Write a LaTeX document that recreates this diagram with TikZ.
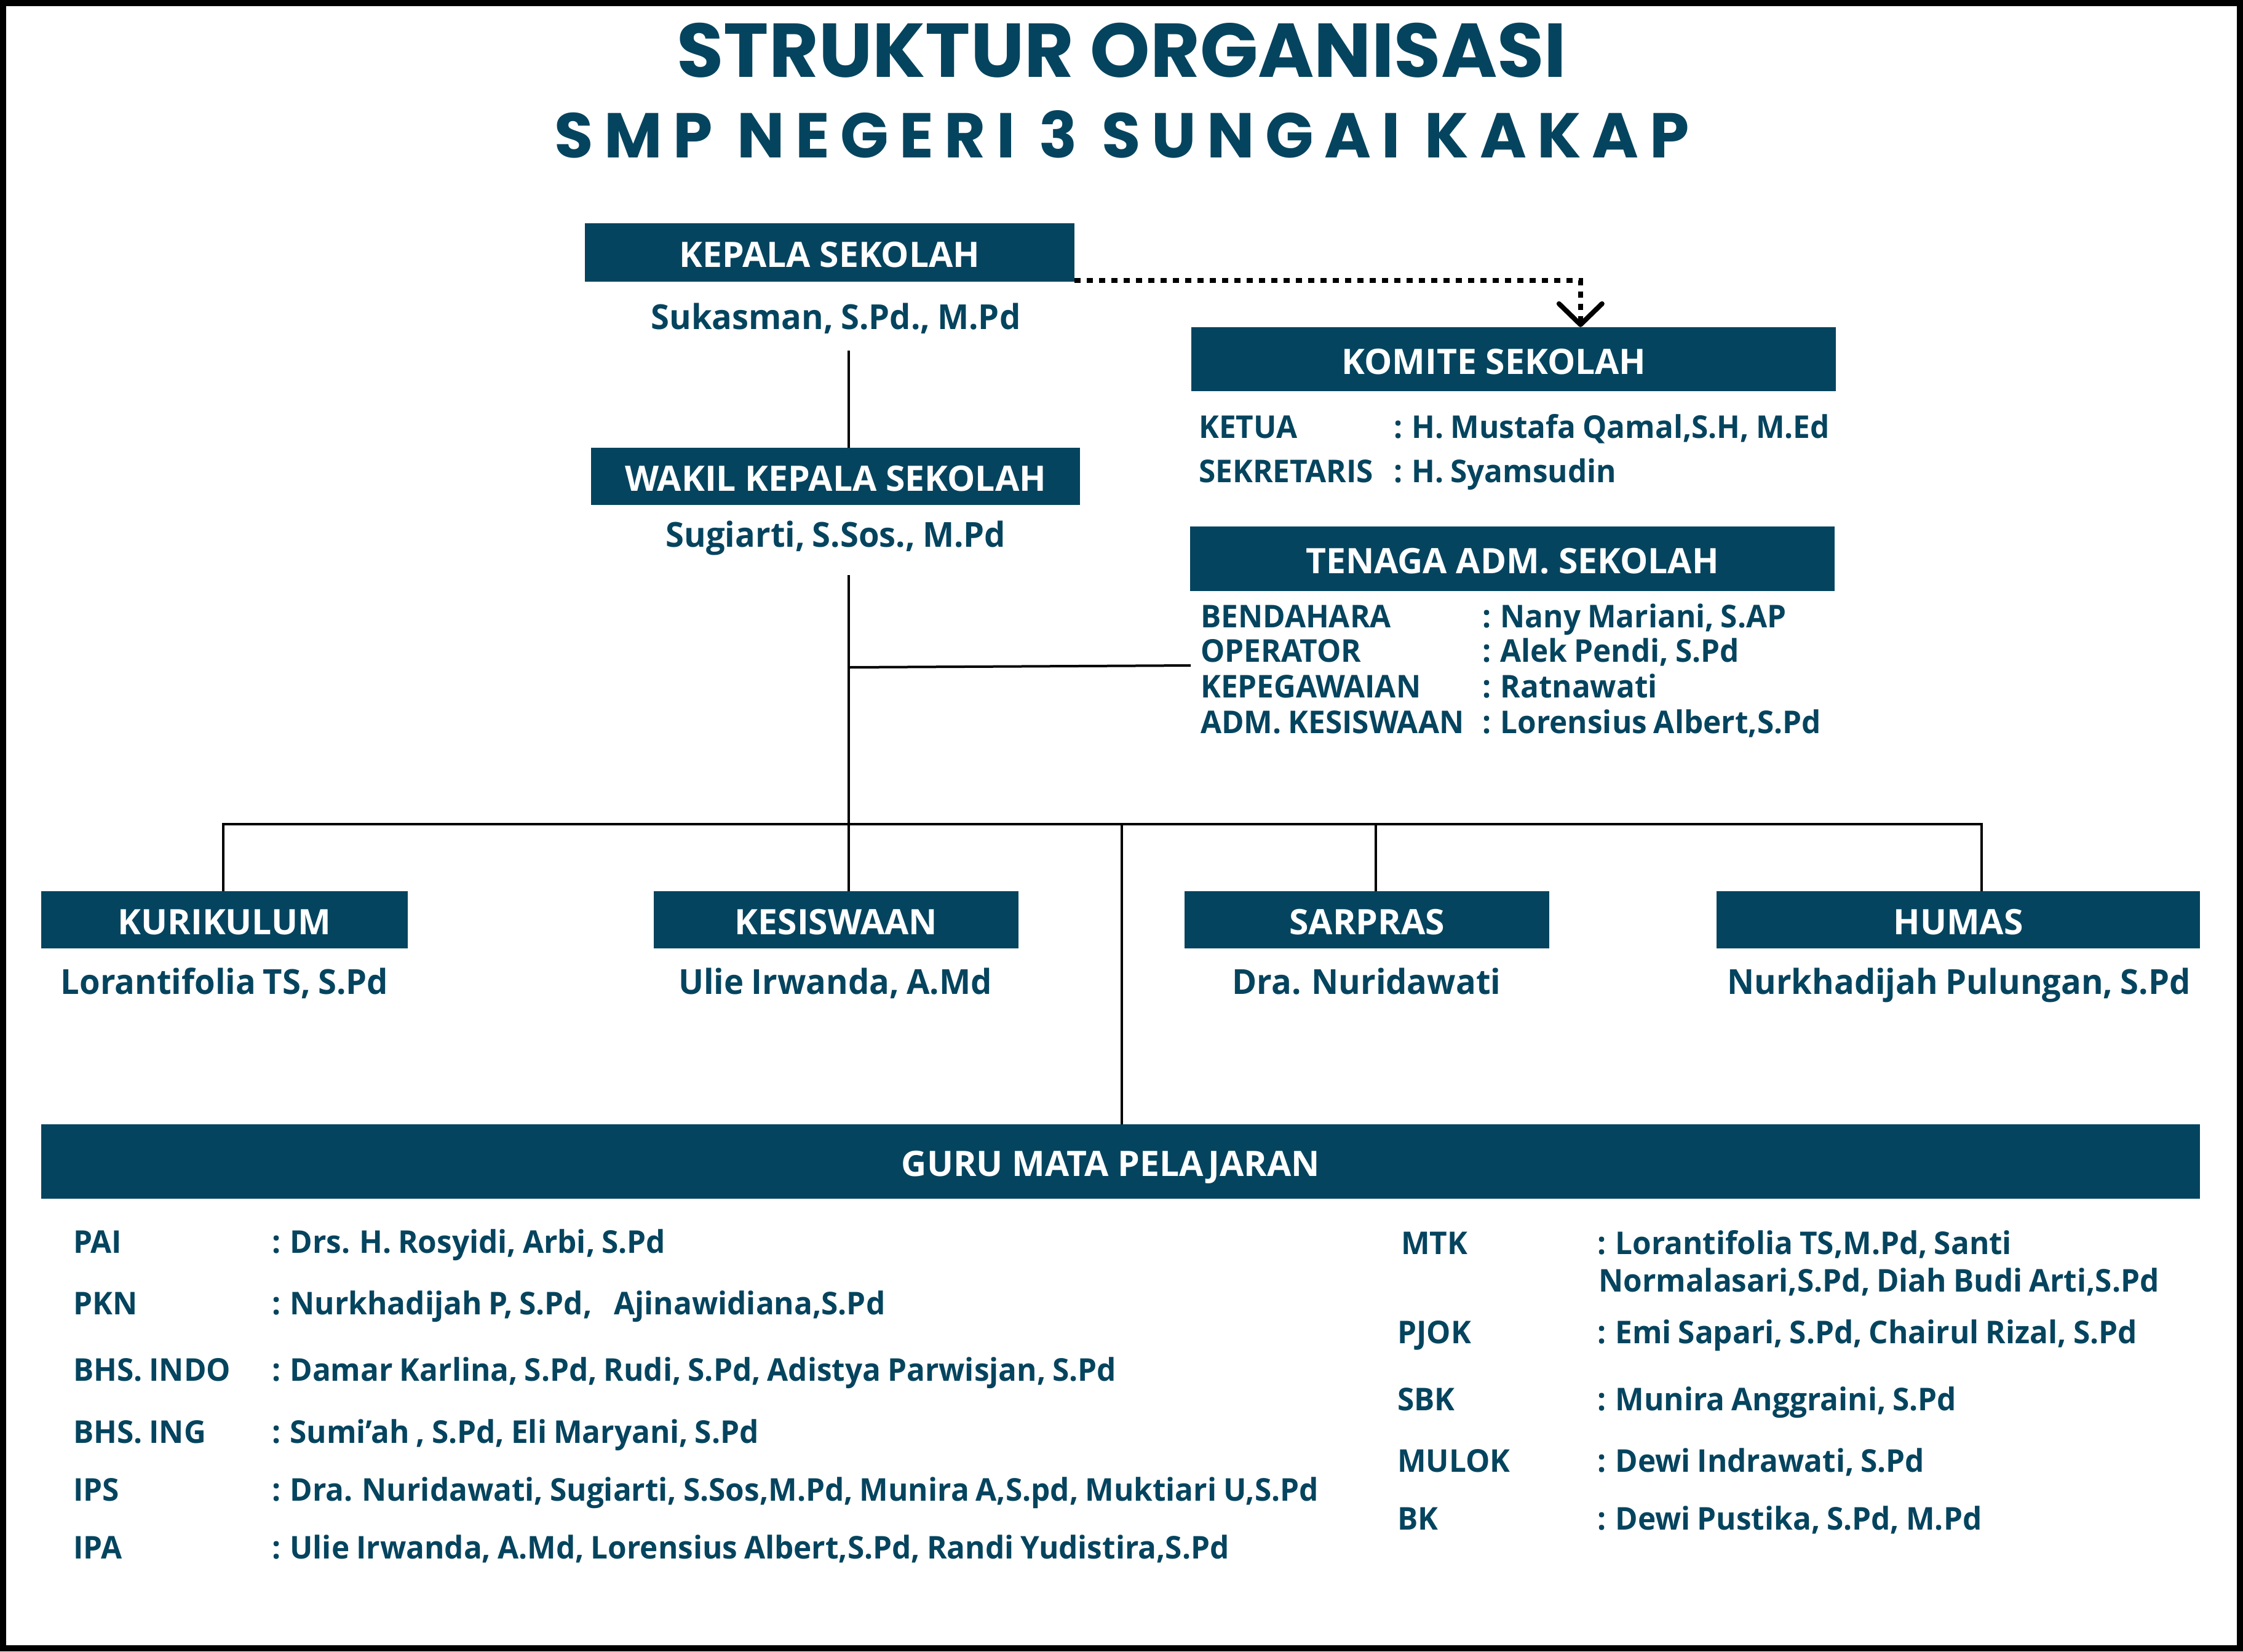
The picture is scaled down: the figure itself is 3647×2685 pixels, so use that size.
\documentclass[tikz,border=0pt]{standalone}
\usepackage{fontspec}
\setmainfont{Open Sans}
\newfontfamily\bodyfont{Open Sans}[FakeStretch=0.97,WordSpace=0.85]
\newfontfamily\titlefont{Poppins}
\usetikzlibrary{arrows.meta,calc}
\definecolor{teal1}{HTML}{05445E}
\newcommand\myboxfont{\bfseries\fontsize{57}{64}\selectfont}
\newcommand\mynamefont{\bodyfont\bfseries\fontsize{56}{64}\selectfont}
\newcommand\myitemfont{\bodyfont\bfseries\fontsize{51}{60}\selectfont}
\begin{document}
\begin{tikzpicture}[x=1pt,y=-1pt,
  box/.style={fill=teal1,text=white,inner sep=0pt,font=\myboxfont,text height=48pt,text depth=0pt},
  pname/.style={text=teal1,inner sep=0pt,anchor=base,font=\mynamefont},
  item/.style={text=teal1,inner sep=0pt,anchor=base west,font=\myitemfont},
  conn/.style={line width=4pt,black,line join=miter},
  dotconn/.style={line width=8pt,black,dash pattern=on 10pt off 10pt,
    -{Straight Barb[length=34pt,width=70pt,round]}},
]
% frame
\fill[black] (0,0) rectangle (3647,2685);
\fill[white] (10,10) rectangle (3637,2675);

% titles
\node[anchor=base,text=teal1,inner sep=0pt,font=\titlefont\bfseries\fontsize{124}{130}\selectfont] (title) at (1824,125) {STRUKTUR ORGANISASI};
\node[anchor=base,text=teal1,inner sep=0pt,font=\titlefont\bfseries\fontsize{103}{110}\selectfont\addfontfeature{LetterSpace=17}] (subtitle) at (1824,256) {SMP NEGERI 3 SUNGAI KAKAP};

% top
\node[box,minimum width=796pt,minimum height=95pt] (kepala) at (1349,410.5) {KEPALA SEKOLAH};
\node[pname] (kepalaname) at (1359,535) {Sukasman, S.Pd., M.Pd};
\node[box,minimum width=795pt,minimum height=93pt] (wakil) at (1358.5,774.5) {WAKIL KEPALA SEKOLAH};
\node[pname] (wakilname) at (1359,889) {Sugiarti, S.Sos., M.Pd};

% komite
\node[box,minimum width=1048pt,minimum height=104pt] (komite) at (2461,584) {\hspace*{-64pt}KOMITE SEKOLAH};
\node[item] (ketua) at (1949,712) {KETUA};
\node[item] (ketuav) at (2266,712) {: H. Mustafa Qamal,S.H, M.Ed};
\node[item] (sekr) at (1949,784) {SEKRETARIS};
\node[item] (sekrv) at (2266,784) {: H. Syamsudin};

% tenaga adm
\node[box,minimum width=1048pt,minimum height=105pt] (tenaga) at (2459,908.5) {TENAGA ADM. SEKOLAH};
\node[item] (bend) at (1952,1020) {BENDAHARA};
\node[item] (bendv) at (2410,1020) {: Nany Mariani, S.AP};
\node[item] (oper) at (1952,1076) {OPERATOR};
\node[item] (operv) at (2410,1076) {: Alek Pendi, S.Pd};
\node[item] (kepeg) at (1952,1134) {KEPEGAWAIAN};
\node[item] (kepegv) at (2410,1134) {: Ratnawati};
\node[item] (admk) at (1952,1192) {ADM. KESISWAAN};
\node[item] (admkv) at (2410,1192) {: Lorensius Albert,S.Pd};

% second level
\node[box,minimum width=596pt,minimum height=93pt] (kur) at (365,1495.5) {KURIKULUM};
\node[box,minimum width=593pt,minimum height=93pt] (kesis) at (1359.5,1495.5) {KESISWAAN};
\node[box,minimum width=593pt,minimum height=93pt] (sarpras) at (2222.5,1495.5) {SARPRAS};
\node[box,minimum width=786pt,minimum height=93pt] (humas) at (3184,1495.5) {HUMAS};
\node[pname] (kurname) at (365,1616) {Lorantifolia TS, S.Pd};
\node[pname] (kesisname) at (1358,1616) {Ulie Irwanda, A.Md};
\node[pname] (sarprasname) at (2222,1616) {Dra. Nuridawati};
\node[pname] (humasname) at (3185,1616) {Nurkhadijah Pulungan, S.Pd};

% guru
\node[box,minimum width=3510pt,minimum height=121pt] (guru) at (1822,1888.5) {\hspace*{-32pt}GURU MATA PELAJARAN};

\node[item] (pai) at (119,2037) {PAI};
\node[item] (paiv) at (442,2037) {: Drs. H. Rosyidi, Arbi, S.Pd};
\node[item] (pkn) at (119,2137) {PKN};
\node[item] (pknv) at (442,2137) {: Nurkhadijah P, S.Pd,\hspace{36pt}Ajinawidiana,S.Pd};
\node[item] (indo) at (119,2245) {BHS. INDO};
\node[item] (indov) at (442,2245) {: Damar Karlina, S.Pd, Rudi, S.Pd, Adistya Parwisjan, S.Pd};
\node[item] (ing) at (119,2346) {BHS. ING};
\node[item] (ingv) at (442,2346) {: Sumi’ah , S.Pd, Eli Maryani, S.Pd};
\node[item] (ips) at (119,2440) {IPS};
\node[item] (ipsv) at (442,2440) {: Dra. Nuridawati, Sugiarti, S.Sos,M.Pd, Munira A,S.pd, Muktiari U,S.Pd};
\node[item] (ipa) at (119,2534) {IPA};
\node[item] (ipav) at (442,2534) {: Ulie Irwanda, A.Md, Lorensius Albert,S.Pd, Randi Yudistira,S.Pd};

\node[item] (mtk) at (2278,2039) {MTK};
\node[item] (mtkv) at (2597,2039) {: Lorantifolia TS,M.Pd, Santi};
\node[item] (mtkv2) at (2599,2100) {Normalasari,S.Pd, Diah Budi Arti,S.Pd};
\node[item] (pjok) at (2272,2184) {PJOK};
\node[item] (pjokv) at (2597,2184) {: Emi Sapari, S.Pd, Chairul Rizal, S.Pd};
\node[item] (sbk) at (2272,2293) {SBK};
\node[item] (sbkv) at (2597,2293) {: Munira Anggraini, S.Pd};
\node[item] (mulok) at (2272,2393) {MULOK};
\node[item] (mulokv) at (2597,2393) {: Dewi Indrawati, S.Pd};
\node[item] (bk) at (2272,2487) {BK};
\node[item] (bkv) at (2597,2487) {: Dewi Pustika, S.Pd, M.Pd};

% connectors
\coordinate (kdrop) at (1380,570);
\coordinate (wdrop) at (1380,935);
\coordinate (wjoin) at (1380,1085);
\coordinate (admend) at (1936,1082);
\coordinate (b1) at (363,1340);
\coordinate (b3) at (1824,1340);
\coordinate (b4) at (2237,1340);
\coordinate (b5) at (3222,1340);

\draw[conn] (kdrop) -- (kdrop |- wakil.north);
\draw[conn] (wdrop) -- (wdrop |- kesis.north);
\draw[conn] (wjoin) -- (admend);
\draw[conn] (b1 |- kur.north) -- (b1) -- (b5) -- (b5 |- humas.north);
\draw[conn] (b4) -- (b4 |- sarpras.north);
\draw[conn] (b3) -- (b3 |- guru.north);
\draw[dotconn] ($(kepala.south east)+(0,-2)$) -| ($(komite.north west)+(633,0)$);
\end{tikzpicture}
\end{document}
